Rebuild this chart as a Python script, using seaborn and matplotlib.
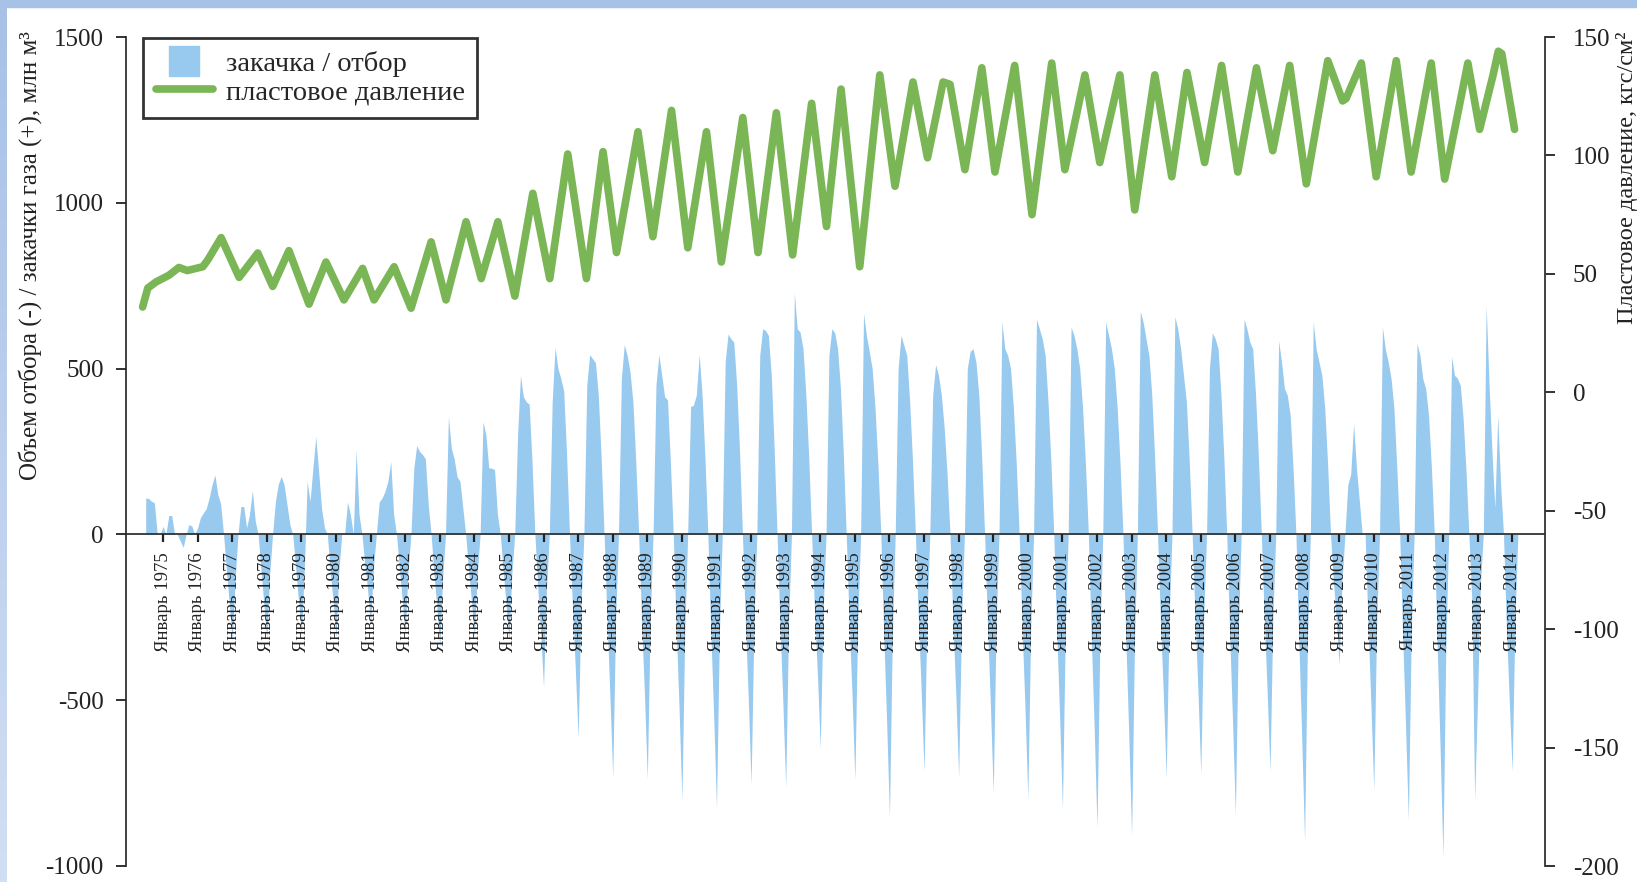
import numpy as np
import pandas as pd
import seaborn as sns
import matplotlib.pyplot as plt
from matplotlib.lines import Line2D
from matplotlib.patches import Rectangle

nan = np.nan

# monthly injection (+) / withdrawal (-) volume, mln m3, rows = years, Jan..Dec
years = list(range(1974, 2015))
volume = [
    [nan, nan, nan, nan, nan, nan, 110, 108, 100, 95, 0, 0],            # 1974
    [24, 0, 57, 57, 0, 0, -20, -39, 0, 30, 25, 0],                      # 1975
    [20, 51, 65, 78, 110, 150, 179, 120, 92, 0, -110, -210],            # 1976
    [-320, -140, 0, 84, 84, 20, 60, 132, 40, 0, -110, -210],            # 1977
    [-316, -120, 0, 100, 152, 175, 150, 90, 30, 0, -100, -200],         # 1978
    [-300, -110, 160, 100, 200, 295, 188, 78, 20, 0, -110, -200],       # 1979
    [-310, -110, 0, 0, 98, 60, 0, 255, 60, 0, -90, -170],               # 1980
    [-270, -100, 0, 98, 110, 130, 160, 220, 60, 0, -100, -200],         # 1981
    [-300, -110, 0, 200, 268, 250, 241, 228, 90, 0, -120, -220],        # 1982
    [-340, -130, 0, 355, 260, 228, 174, 160, 80, 0, -110, -200],        # 1983
    [-310, -120, 0, 340, 300, 200, 200, 195, 60, 0, -110, -210],        # 1984
    [-320, -120, 0, 300, 479, 415, 400, 393, 220, 0, -160, -300],       # 1985
    [-460, -170, 0, 400, 564, 500, 470, 432, 240, 0, -210, -400],       # 1986
    [-613, -220, 0, 450, 542, 530, 518, 420, 230, 0, -250, -480],       # 1987
    [-731, -260, 0, 470, 572, 540, 490, 400, 220, 0, -260, -480],       # 1988
    [-738, -260, 0, 450, 542, 480, 415, 406, 220, 0, -280, -520],       # 1989
    [-801, -290, 0, 385, 390, 420, 542, 420, 230, 0, -290, -540],       # 1990
    [-825, -300, 0, 520, 604, 590, 580, 450, 250, 0, -260, -490],       # 1991
    [-754, -270, 0, 540, 620, 615, 600, 480, 260, 0, -270, -500],       # 1992
    [-762, -270, 0, 728, 620, 610, 560, 420, 230, 0, -230, -420],       # 1993
    [-645, -230, 0, 540, 620, 608, 560, 440, 240, 0, -260, -480],       # 1994
    [-740, -260, 0, 666, 600, 551, 500, 380, 210, 0, -300, -560],       # 1995
    [-852, -300, 0, 500, 600, 570, 540, 400, 220, 0, -250, -470],       # 1996
    [-716, -250, 0, 420, 512, 480, 420, 320, 180, 0, -260, -480],       # 1997
    [-732, -260, 0, 500, 552, 560, 520, 420, 230, 0, -270, -510],       # 1998
    [-780, -270, 0, 641, 560, 540, 500, 380, 210, 0, -280, -520],       # 1999
    [-796, -280, 0, 649, 620, 590, 540, 400, 220, 0, -290, -540],       # 2000
    [-829, -290, 0, 625, 600, 560, 500, 380, 210, 0, -310, -580],       # 2001
    [-885, -310, 0, 641, 600, 560, 500, 380, 210, 0, -320, -600],       # 2002
    [-910, -320, 0, 673, 640, 590, 540, 420, 230, 0, -260, -480],       # 2003
    [-732, -260, 0, 657, 620, 560, 480, 400, 220, 0, -250, -470],       # 2004
    [-723, -250, 0, 500, 608, 590, 560, 420, 230, 0, -300, -560],       # 2005
    [-845, -300, 0, 649, 620, 580, 560, 420, 230, 0, -250, -470],       # 2006
    [-716, -250, 0, 584, 520, 440, 420, 360, 200, 0, -320, -610],       # 2007
    [-925, -320, 0, 641, 560, 520, 480, 380, 210, 0, -140, -260],       # 2008
    [-392, -140, 0, 150, 181, 334, 200, 100, 0, 0, -270, -510],         # 2009
    [-771, -270, 0, 625, 560, 520, 470, 380, 200, 0, -300, -570],       # 2010
    [-861, -300, 0, 576, 540, 470, 440, 360, 200, 0, -340, -640],       # 2011
    [-973, -340, 0, 536, 480, 471, 450, 350, 190, 0, -200, -800],       # 2012
    [-497, -150, 0, 690, 450, 250, 80, 358, 150, 0, -280, -500],        # 2013
    [-716, -250, 0, nan, nan, nan, nan, nan, nan, nan, nan, nan],       # 2014
]

# reservoir pressure, kgf/cm2 (decimal year, value)
p_time = [1974.41, 1974.56, 1974.80, 1975.17, 1975.46, 1975.70, 1976.15, 1976.30,
          1976.68, 1977.20, 1977.74, 1978.17, 1978.64, 1979.22, 1979.71, 1980.23,
          1980.77, 1981.10, 1981.68, 1982.17, 1982.75, 1983.18, 1983.76, 1984.20,
          1984.68, 1985.17, 1985.69, 1986.18, 1986.70, 1987.24, 1987.72, 1988.11,
          1988.73, 1989.16, 1989.70, 1990.17, 1990.71, 1991.14, 1991.76, 1992.20,
          1992.73, 1993.20, 1993.75, 1994.18, 1994.60, 1995.14, 1995.72, 1996.16,
          1996.68, 1997.10, 1997.55, 1997.75, 1998.18, 1998.67, 1999.05, 1999.62,
          2000.12, 2000.69, 2001.07, 2001.65, 2002.08, 2002.66, 2003.09, 2003.67,
          2004.16, 2004.60, 2005.11, 2005.60, 2006.07, 2006.61, 2007.08, 2007.57,
          2008.05, 2008.67, 2009.10, 2009.20, 2009.64, 2010.07, 2010.65, 2011.08,
          2011.66, 2012.05, 2012.72, 2013.06, 2013.45, 2013.60, 2013.70, 2014.07]
p_value = [36, 44, 46.6, 49.4, 52.7, 51.4, 53, 56,
           65.3, 48.5, 58.8, 44.7, 59.8, 37.2, 55, 39,
           52.3, 39, 53, 35.5, 63.5, 39, 72, 48,
           72, 40.6, 84, 48, 100.6, 48, 101.6, 59,
           110, 65.7, 119, 61, 110, 55, 116, 59,
           118, 58, 122, 70, 128, 53, 134, 87,
           131, 99, 131, 130, 94, 137, 93, 138,
           75, 139, 94, 134, 97, 134, 77, 134,
           91, 135, 97, 138, 93, 137, 102, 138,
           88, 140, 123, 124, 139, 91, 140, 93,
           139, 90, 139, 111, 134, 144, 143, 111]

tick_years = list(range(1975, 2015))
tick_labels = [f"Январь {y}" for y in tick_years]
legend_labels = ["закачка / отбор", "пластовое давление"]

sns.set_theme(style="ticks")
plt.rcParams["font.family"] = ["Liberation Serif", "DejaVu Serif"]
plt.rcParams["axes.unicode_minus"] = False

BLUE = "#98c9ee"
GREEN = "#7ab655"
DARK = "#222222"

rows = []
for y, vals in zip(years, volume):
    for m, v in enumerate(vals):
        if not np.isnan(v):
            rows.append((y + m / 12, v))
vol = pd.DataFrame(rows, columns=["t", "v"])
press = pd.DataFrame({"t": p_time, "p": p_value})

W, H = 1637, 882
fig = plt.figure(figsize=(W / 100, H / 100), dpi=100)
fig.patch.set_facecolor("white")

# slide frame strips
fig.patches.append(Rectangle((0, 1 - 7 / H), 1, 7 / H, transform=fig.transFigure,
                             color="#a7c1e7", zorder=0))
strip = fig.add_axes([0, 0, 7 / W, 1 - 7 / H])
grad = np.linspace(0, 1, 256).reshape(-1, 1)
strip.imshow(grad, aspect="auto", cmap=sns.blend_palette(["#a7c1e7", "#d2def3"], as_cmap=True))
strip.axis("off")

x0, x1, ytop, ybot = 126, 1545, 37, 866
ax = fig.add_axes([x0 / W, 1 - ybot / H, (x1 - x0) / W, (ybot - ytop) / H])
ax.fill_between(vol["t"], vol["v"], 0, color=BLUE, lw=0, zorder=1)
ax.set_axisbelow(False)

ax2 = ax.twinx()
sns.lineplot(data=press, x="t", y="p", ax=ax2, color=GREEN, linewidth=5.5, sort=False,
             estimator=None, legend=False, solid_joinstyle="round", solid_capstyle="round")

ax.set_xlim(1973.93, 2014.95)
ax.set_ylim(-1000, 1500)
ax.set_yticks([-1000, -500, 0, 500, 1000, 1500])
ax.set_xticks(tick_years, labels=tick_labels)
ax.tick_params(axis="x", direction="out", length=6, width=1.6, pad=7, color=DARK,
               labelcolor=DARK, labelsize=13.5, labelrotation=90)
ax.tick_params(axis="y", direction="out", length=7, width=1.3, pad=9, labelsize=18,
               color=DARK, labelcolor=DARK)
ax.spines["top"].set_visible(False)
ax.spines["right"].set_visible(False)
ax.spines["bottom"].set_position(("data", 0))
for s in ("left", "bottom"):
    ax.spines[s].set_color("#333333")
    ax.spines[s].set_linewidth(1.3)
ax.set_xlabel("")
ax.set_ylabel("")
ax.grid(False)

ax2.set_ylim(-200, 150)
ax2.set_yticks(range(-200, 151, 50))
ax2.tick_params(axis="y", direction="out", length=7, width=1.3, pad=13, labelsize=18,
                color=DARK, labelcolor=DARK)
for s in ("left", "top", "bottom"):
    ax2.spines[s].set_visible(False)
ax2.spines["right"].set_color("#333333")
ax2.spines["right"].set_linewidth(1.3)
ax2.set_xlabel("")
ax2.set_ylabel("")
ax2.grid(False)

handles = [Line2D([], [], ls="none", marker="s", markersize=22, markerfacecolor=BLUE,
                  markeredgecolor=BLUE),
           Line2D([], [], color=GREEN, lw=5.5, solid_capstyle="round")]
leg = ax2.legend(handles, legend_labels, loc="upper left", bbox_to_anchor=(0.012, 0.999),
                 fontsize=20.5, frameon=True, fancybox=False, edgecolor="black",
                 handlelength=2.0, handletextpad=0.45, borderpad=0.45, labelspacing=0.1,
                 borderaxespad=0)
leg.get_frame().set_linewidth(2)

fig.text(30 / W, 1 - 256 / H, "Объем отбора (-) / закачки газа (+), млн м³", rotation=90,
         ha="center", va="center", fontsize=18, color=DARK)
fig.text(1627 / W, 1 - 178 / H, "Пластовое давление, кгс/см²", rotation=90,
         ha="center", va="center", fontsize=17.5, color=DARK)

fig.savefig("out.png", dpi=100, facecolor="white")
